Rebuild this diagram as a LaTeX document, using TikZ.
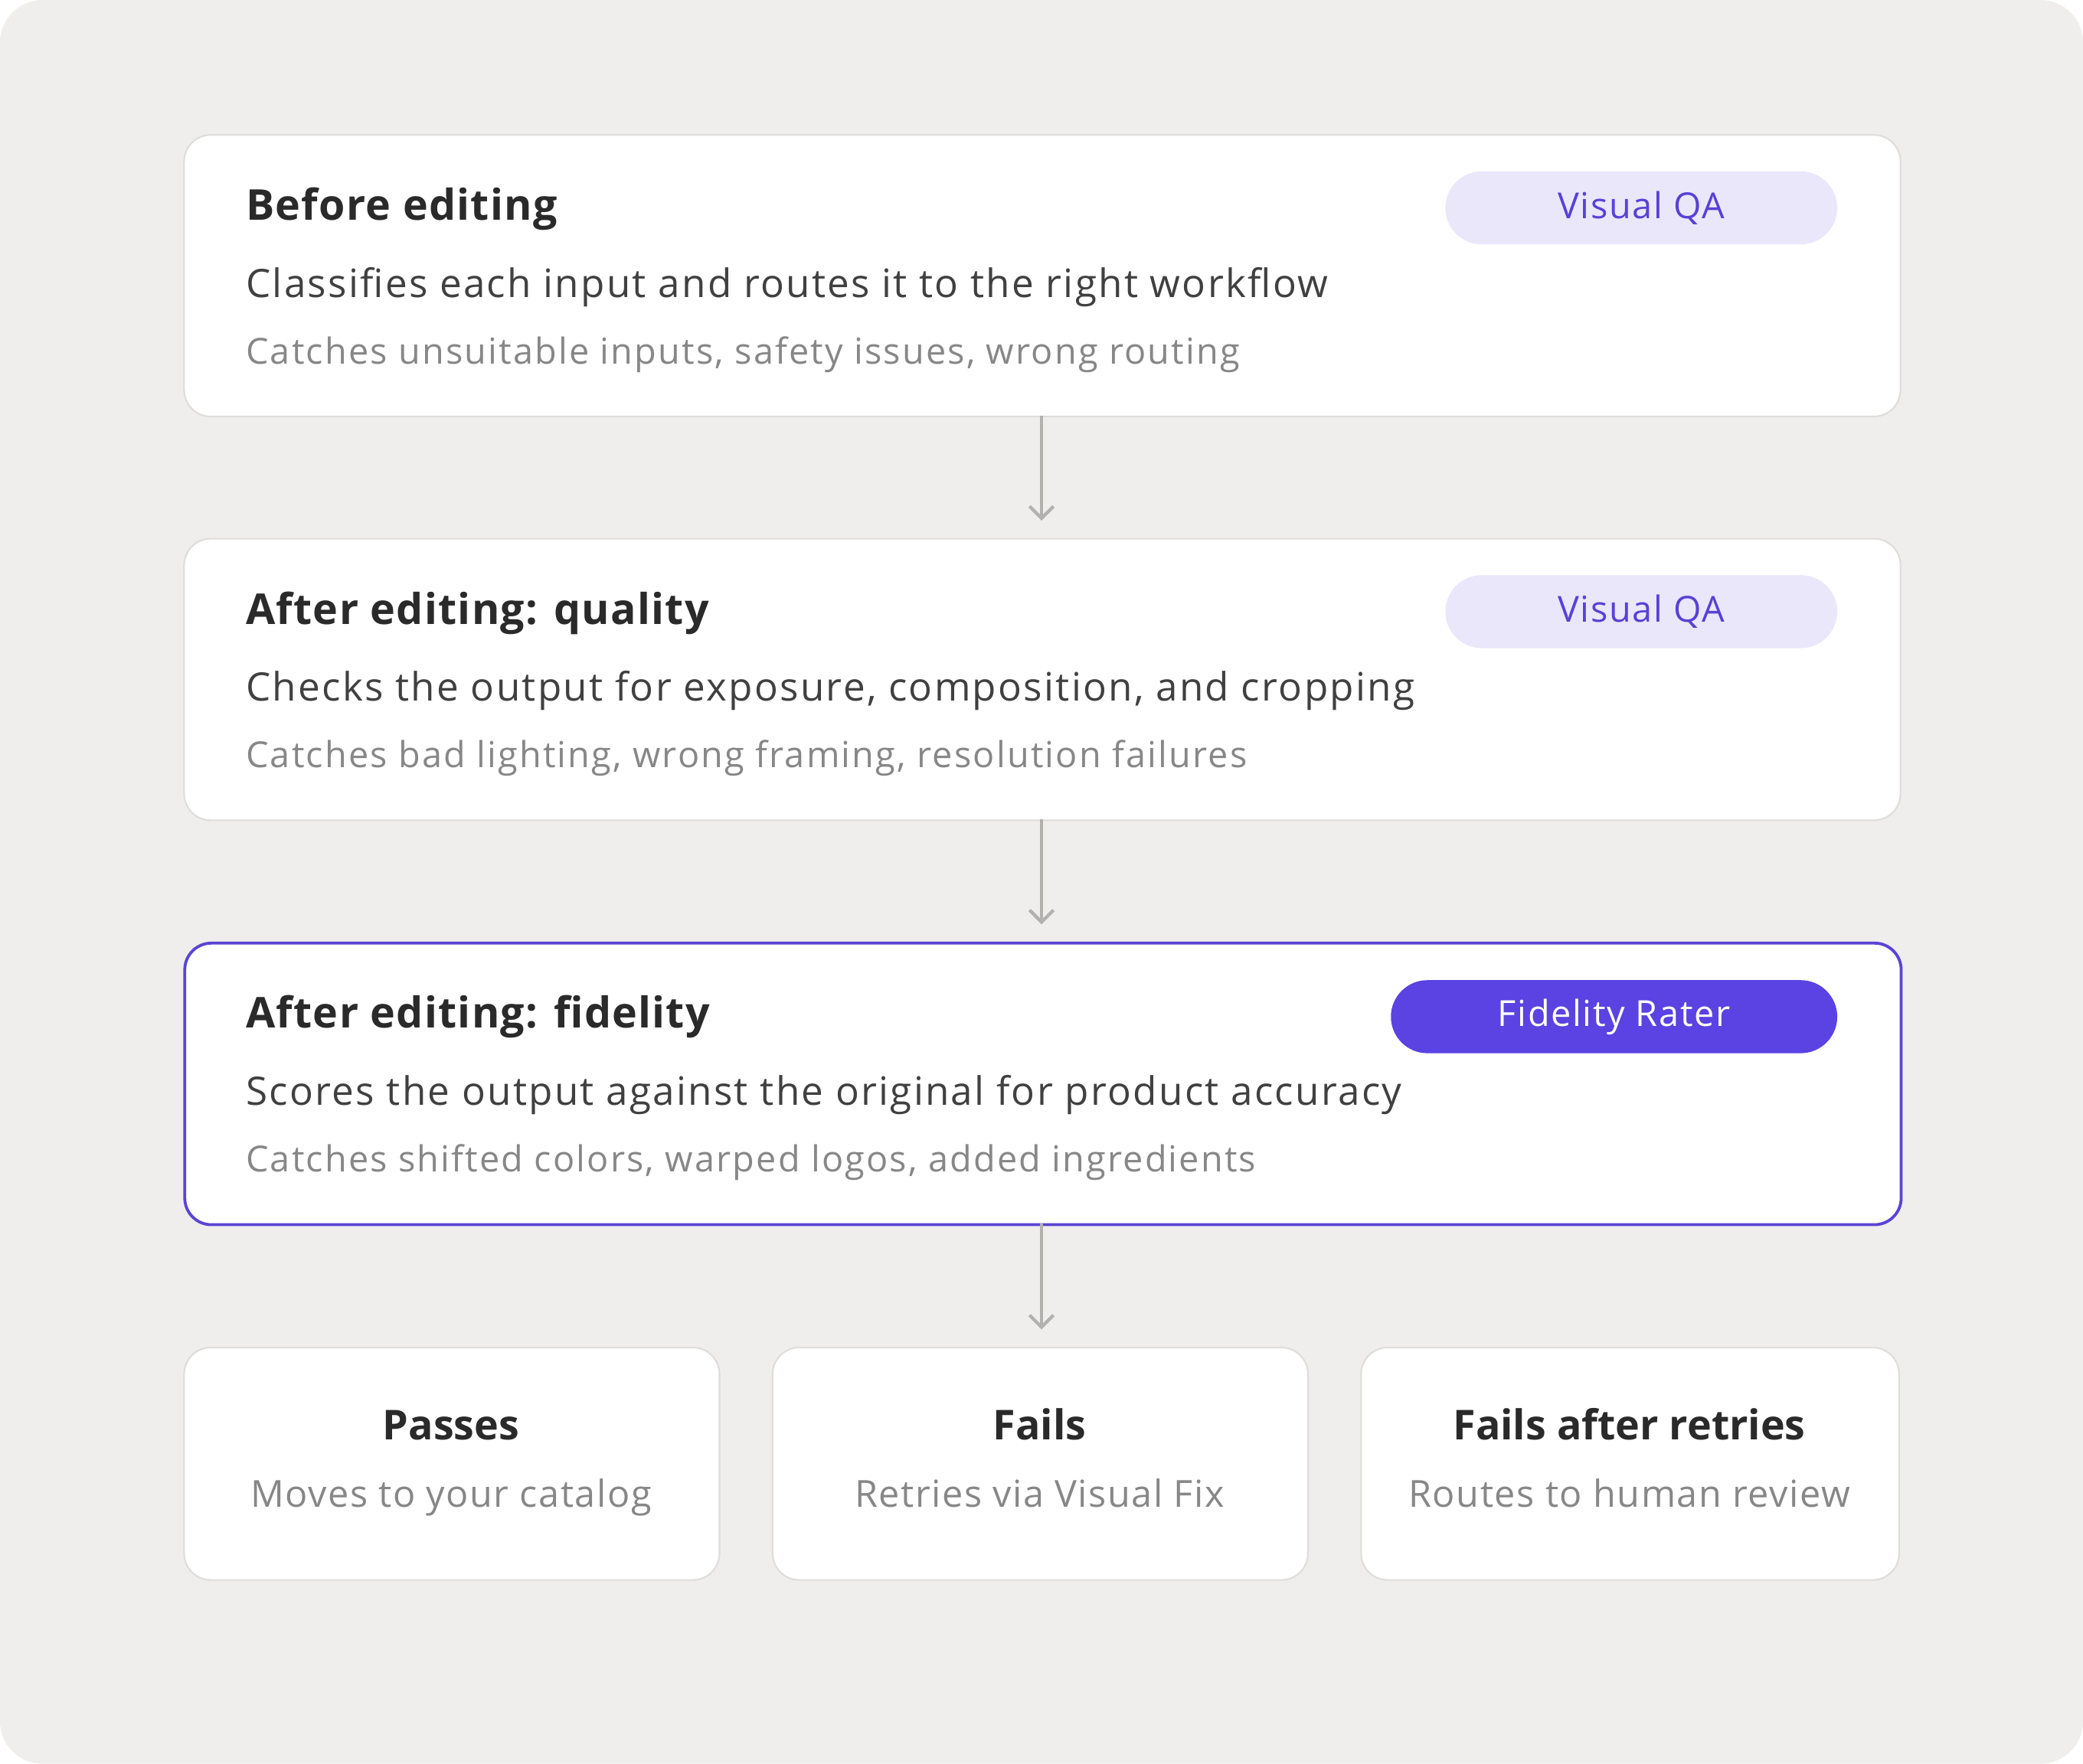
\documentclass[tikz,border=0pt]{standalone}
\usepackage{fontspec}
\setmainfont{Open Sans}
\usetikzlibrary{arrows.meta}
\definecolor{bgc}{HTML}{EFEEEC}
\definecolor{cardline}{HTML}{DEDDDA}
\definecolor{titlec}{HTML}{2A2A2A}
\definecolor{bodyc}{HTML}{404040}
\definecolor{mutedc}{HTML}{878787}
\definecolor{pillfill}{HTML}{EAE7FB}
\definecolor{pilltext}{HTML}{5841D6}
\definecolor{purplec}{HTML}{5B42E2}
\definecolor{borderp}{HTML}{5A45D4}
\definecolor{arrowc}{HTML}{B2B1AD}
\tikzset{
  card/.style={draw=cardline, fill=white, rounded corners=20pt, line width=1.2pt, inner sep=0pt},
  bigcard/.style={card, minimum width=1292pt, minimum height=212pt, anchor=north west},
  smallcard/.style={card, minimum width=403pt, minimum height=175pt, anchor=north west},
  ttl/.style={anchor=base west, inner sep=0pt, text=titlec, font=\fontsize{32}{38}\selectfont\bfseries\addfontfeatures{LetterSpace=2.3}},
  sub/.style={anchor=base west, inner sep=0pt, text=bodyc, font=\fontsize{29.5}{34}\selectfont\addfontfeatures{LetterSpace=4.5}},
  muted/.style={anchor=base west, inner sep=0pt, text=mutedc, font=\fontsize{27}{32}\selectfont\addfontfeatures{LetterSpace=4.6}},
  pill/.style={fill=pillfill, text=pilltext, rounded corners=27.5pt, minimum height=55pt, inner sep=0pt, font=\fontsize{27}{32}\selectfont\addfontfeatures{LetterSpace=3.5}},
  pillstrong/.style={pill, fill=purplec, text=white},
  ctitle/.style={anchor=base, inner sep=0pt, text=titlec, font=\fontsize{31}{38}\selectfont\bfseries},
  cmuted/.style={anchor=base, inner sep=0pt, text=mutedc, font=\fontsize{28}{34}\selectfont\addfontfeatures{LetterSpace=3.2}},
  flow/.style={draw=arrowc, line width=2.5pt, -{Straight Barb[length=9pt,width=18pt,line width=2.5pt]}, shorten >=13pt}
}
\begin{document}
\begin{tikzpicture}[x=1pt,y=-1pt]
\useasboundingbox (0,0) rectangle (1568,1328);
\fill[white] (0,0) rectangle (1568,1328);
\fill[bgc, rounded corners=32pt] (0,0) rectangle (1568,1328);

% card 1
\node[bigcard] (c1) at (138,101) {};
\node[ttl] (t1) at (185,166) {Before editing};
\node[sub] (s1) at (185,224) {Classifies each input and routes it to the right workflow};
\node[muted] (m1) at (185,274) {Catches unsuitable inputs, safety issues, wrong routing};
\node[pill, minimum width=295pt] (p1) at (1235.5,156.5) {Visual QA};

% card 2
\node[bigcard] (c2) at (138,405) {};
\node[ttl] (t2) at (185,470) {After editing: quality};
\node[sub] (s2) at (185,528) {Checks the output for exposure, composition, and cropping};
\node[muted] (m2) at (185,578) {Catches bad lighting, wrong framing, resolution failures};
\node[pill, minimum width=295pt] (p2) at (1235.5,460.5) {Visual QA};

% card 3
\node[bigcard, draw=borderp, line width=2.2pt] (c3) at (138,709) {};
\node[ttl] (t3) at (185,774) {After editing: fidelity};
\node[sub] (s3) at (185,832) {Scores the output against the original for product accuracy};
\node[muted] (m3) at (185,882) {Catches shifted colors, warped logos, added ingredients};
\node[pillstrong, minimum width=336pt] (p3) at (1215,765.5) {Fidelity Rater};

% bottom cards
\node[smallcard] (b1) at (138,1014) {};
\node[smallcard] (b2) at (581,1014) {};
\node[smallcard, minimum width=405pt] (b3) at (1024,1014) {};
\node[ctitle] (bt1) at (339.5,1084) {Passes};
\node[cmuted] (bm1) at (339.5,1135) {Moves to your catalog};
\node[ctitle] (bt2) at (782.5,1084) {Fails};
\node[cmuted] (bm2) at (782.5,1135) {Retries via Visual Fix};
\node[ctitle] (bt3) at (1226.5,1084) {Fails after retries};
\node[cmuted] (bm3) at (1226.5,1135) {Routes to human review};

% arrows
\coordinate (a1s) at (784,313);
\coordinate (a1e) at (784,405);
\coordinate (a2s) at (784,617);
\coordinate (a2e) at (784,709);
\coordinate (a3s) at (784,921);
\coordinate (a3e) at (784,1014);
\draw[flow] (a1s) -- (a1e);
\draw[flow] (a2s) -- (a2e);
\draw[flow] (a3s) -- (a3e);
\end{tikzpicture}
\end{document}
